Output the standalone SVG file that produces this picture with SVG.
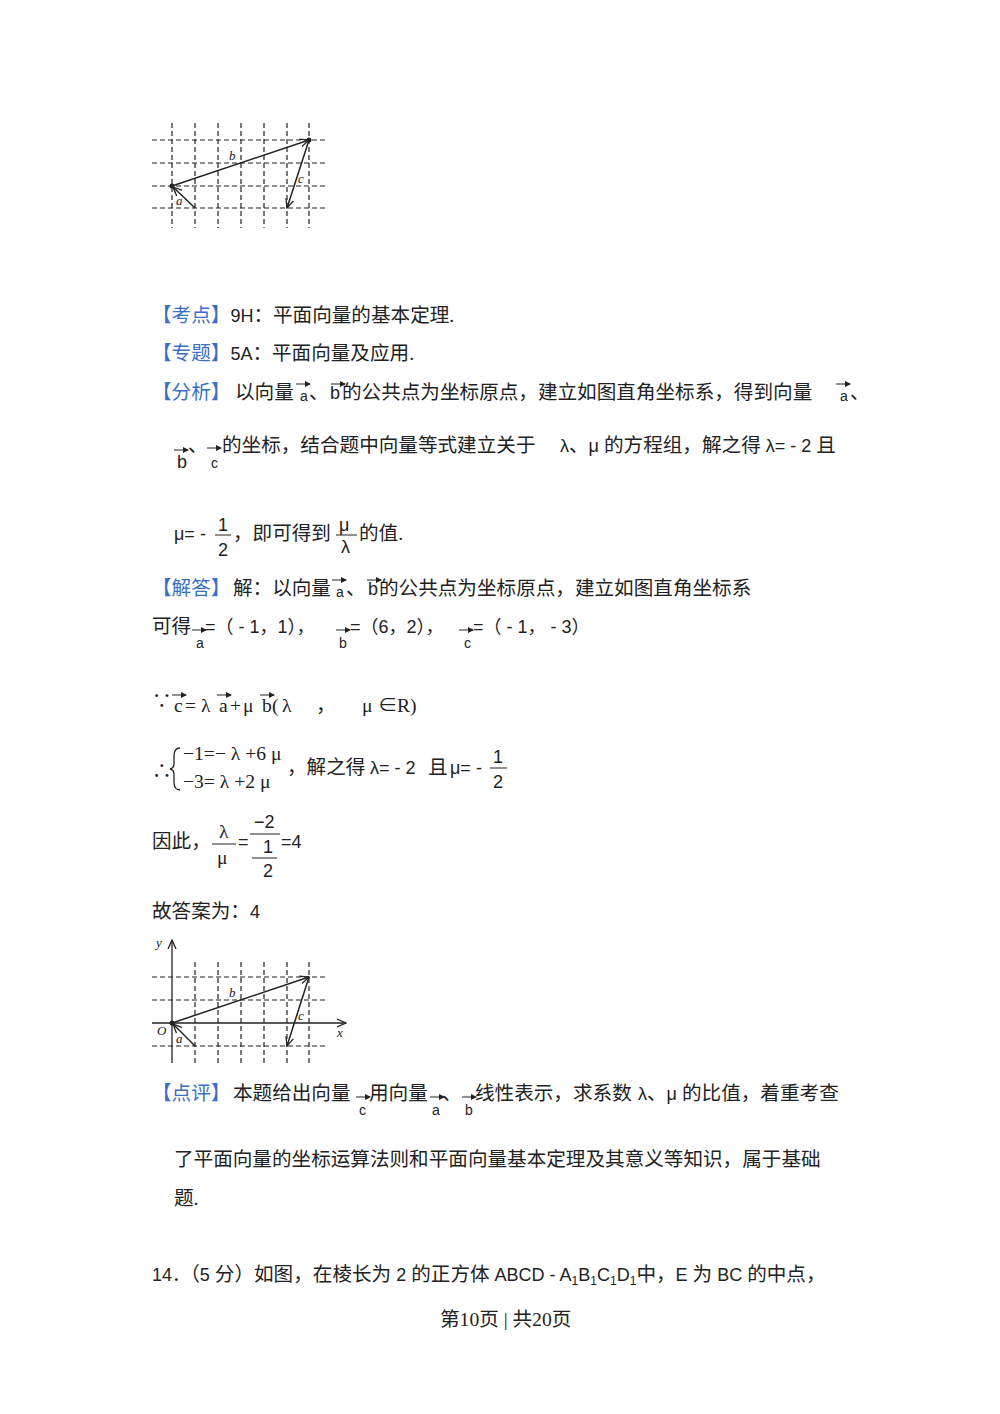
<svg xmlns="http://www.w3.org/2000/svg" width="1000" height="1414" viewBox="0 0 1000 1414">
<style>
text{font-family:"Liberation Serif","Noto Sans CJK SC",serif;font-size:19.6px;fill:#222}
.b{fill:#3a6fc4}
.s{font-family:"Liberation Sans","Noto Sans CJK SC",sans-serif;font-size:18px}
.m{font-size:14px;font-family:"Liberation Sans",sans-serif}
.g{stroke:#222;stroke-width:1.2;stroke-dasharray:5,3;fill:none}
.v{stroke:#222;stroke-width:1.5;fill:none;marker-end:url(#ar)}
.it{font-style:italic;font-size:13px}
.ar{stroke:#222;stroke-width:1;marker-end:url(#sa)}
</style>
<defs>
<marker id="ar" markerWidth="10" markerHeight="10" refX="9" refY="5" orient="auto" markerUnits="userSpaceOnUse"><path d="M0,1 L9,5 L0,9" fill="none" stroke="#222" stroke-width="1.3"/></marker>
<marker id="sa" markerWidth="6" markerHeight="6" refX="5" refY="3" orient="auto" markerUnits="userSpaceOnUse"><path d="M0,0 L6,3 L0,6z" fill="#222"/></marker>
</defs>
<g id="fig1">
<path class="g" d="M172,123V228M195,123V228M218,123V228M241,123V228M264,123V228M287,123V228M309,123V228M152,140H328M152,163H328M152,186H328M152,208H328"/>
<line class="v" x1="172" y1="186" x2="309" y2="140"/>
<line class="v" x1="195" y1="208" x2="173" y2="187"/>
<line class="v" x1="309" y1="140" x2="287" y2="208"/>
<circle cx="172" cy="186" r="2.5" fill="#222"/><circle cx="309" cy="140" r="2.5" fill="#222"/>
<text class="it" x="229" y="160">b</text><text class="it" x="176" y="205">a</text><text class="it" x="298" y="183">c</text>
</g>
<g id="text1">
<text x="152" y="322"><tspan class="b">【考点】</tspan><tspan class="s">9H</tspan>：平面向量的基本定理.</text>
<text x="152" y="360"><tspan class="b">【专题】</tspan><tspan class="s">5A</tspan>：平面向量及应用.</text>
<text x="152" y="399"><tspan class="b">【分析】</tspan><tspan x="235">以向量</tspan><tspan class="m" x="300" y="401">a</tspan><tspan x="309" y="399">、</tspan><tspan class="s" x="330">b</tspan><tspan x="342">的公共点为坐标原点，建立如图直角坐标系，得到向量</tspan><tspan class="m" x="840" y="401">a</tspan><tspan x="850" y="399">、</tspan></text>
<line class="ar" x1="296" y1="384" x2="310" y2="384"/><line class="ar" x1="331" y1="384" x2="345" y2="384"/><line class="ar" x1="836" y1="384" x2="850" y2="384"/>
<text x="174" y="452"><tspan class="s" x="177" y="468">b</tspan><tspan x="188" y="452">、</tspan><tspan class="m" x="211" y="468">c</tspan><tspan x="222" y="452">的坐标，结合题中向量等式建立关于</tspan><tspan class="s" x="555"> λ</tspan><tspan>、</tspan><tspan class="s">μ </tspan><tspan>的方程组，解之得</tspan><tspan class="s"> λ= - 2 </tspan><tspan>且</tspan></text>
<line class="ar" x1="174" y1="450" x2="188" y2="450"/><line class="ar" x1="207" y1="448" x2="221" y2="448"/>
<text class="s" x="174" y="540">μ= -</text>
<text class="s" x="218" y="531">1</text><line x1="215" y1="535" x2="231" y2="535" stroke="#222"/><text class="s" x="218" y="556">2</text>
<text x="233" y="540">，即可得到</text>
<text class="s" x="339" y="531">μ</text><line x1="336" y1="535" x2="357" y2="535" stroke="#222"/><text class="s" x="341" y="553">λ</text>
<text x="359" y="540">的值.</text>
<text x="152" y="595"><tspan class="b">【解答】</tspan><tspan x="233">解：以向量</tspan><tspan class="m" x="336" y="597">a</tspan><tspan x="346" y="595">、</tspan><tspan class="s" x="368">b</tspan><tspan x="379">的公共点为坐标原点，建立如图直角坐标系</tspan></text>
<line class="ar" x1="332" y1="580" x2="346" y2="580"/><line class="ar" x1="367" y1="580" x2="381" y2="580"/>
<text x="152" y="633">可得<tspan class="m" x="196" y="648">a</tspan><tspan class="s" x="205" y="633">=（ - 1，1），</tspan><tspan class="m" x="339" y="648">b</tspan><tspan class="s" x="350" y="633">=（6，2），</tspan><tspan class="m" x="464" y="648">c</tspan><tspan class="s" x="473" y="633">=（ - 1， - 3）</tspan></text>
<line class="ar" x1="192" y1="630" x2="206" y2="630"/><line class="ar" x1="336" y1="630" x2="350" y2="630"/><line class="ar" x1="459" y1="630" x2="473" y2="630"/>
<text x="152" y="708" font-size="18">∵</text>
<text y="712" font-size="17"><tspan x="174">c</tspan><tspan x="185">=</tspan><tspan x="201">λ</tspan><tspan x="219">a</tspan><tspan x="230">+</tspan><tspan x="243">μ</tspan><tspan x="262">b</tspan><tspan x="272">(</tspan><tspan x="282">λ</tspan><tspan x="316">，</tspan><tspan x="362">μ</tspan><tspan x="378">∈</tspan><tspan x="397">R</tspan><tspan x="410">)</tspan></text>
<line class="ar" x1="172" y1="695" x2="186" y2="695"/><line class="ar" x1="217" y1="695" x2="231" y2="695"/><line class="ar" x1="260" y1="695" x2="274" y2="695"/>
<text x="152" y="778">∴</text>
<path d="M180,748 q-6,0 -6,8 v8 q0,4 -4,5 q4,1 4,5 v8 q0,8 6,8" fill="none" stroke="#222" stroke-width="1.3"/>
<text x="183" y="760" font-size="16.5">−1=− λ +6 μ</text>
<text x="183" y="788" font-size="16.5">−3= λ +2 μ</text>
<text x="287" y="774">，解之得<tspan class="s" x="370">λ= - 2 </tspan><tspan x="428">且</tspan><tspan class="s" x="450">μ= -</tspan></text>
<text class="s" x="493" y="763">1</text><line x1="490" y1="768" x2="507" y2="768" stroke="#222"/><text class="s" x="493" y="788">2</text>
<text x="152" y="848">因此，</text>
<text x="219" y="838" font-size="16">λ</text><line x1="212" y1="844" x2="236" y2="844" stroke="#222"/><text x="217" y="864" font-size="16">μ</text>
<text class="s" x="238" y="848">=</text>
<text class="s" x="254" y="828" font-size="16">−2</text><line x1="250" y1="834" x2="280" y2="834" stroke="#222"/>
<text class="s" x="263" y="853" font-size="16">1</text><line x1="252" y1="858" x2="277" y2="858" stroke="#222"/><text class="s" x="263" y="877" font-size="16">2</text>
<text class="s" x="281" y="848">=4</text>
<text x="152" y="918">故答案为：<tspan class="s">4</tspan></text>
</g>
<g id="fig2">
<path class="g" d="M195,962V1063M218,962V1063M241,962V1063M264,962V1063M287,962V1063M309,962V1063M152,977H328M152,1000H328M152,1046H328"/>
<line x1="172" y1="1063" x2="172" y2="940" stroke="#222" stroke-width="1.3" marker-end="url(#ar)"/>
<line x1="152" y1="1023" x2="346" y2="1023" stroke="#222" stroke-width="1.3" marker-end="url(#ar)"/>
<line class="v" x1="172" y1="1023" x2="309" y2="977"/>
<line class="v" x1="195" y1="1046" x2="173" y2="1024"/>
<line class="v" x1="309" y1="977" x2="287" y2="1046"/>
<circle cx="172" cy="1023" r="2.5" fill="#222"/>
<text class="it" x="229" y="997">b</text><text class="it" x="176" y="1043">a</text><text class="it" x="298" y="1020">c</text>
<text class="it" x="157" y="1035" font-size="15">O</text><text class="it" x="156" y="947" font-size="15">y</text><text class="it" x="337" y="1037" font-size="15">x</text>
</g>
<g id="text2">
<text x="152" y="1100"><tspan class="b">【点评】</tspan><tspan x="233">本题给出向量</tspan><tspan class="m" x="359" y="1115">c</tspan><tspan x="369" y="1100">用向量</tspan><tspan class="m" x="432" y="1115">a</tspan><tspan x="442" y="1100">、</tspan><tspan class="m" x="465" y="1115">b</tspan><tspan x="475" y="1100">线性表示，求系数</tspan><tspan class="s" x="633"> λ</tspan><tspan>、</tspan><tspan class="s">μ </tspan><tspan>的比值，着重考查</tspan></text>
<line class="ar" x1="356" y1="1097" x2="370" y2="1097"/><line class="ar" x1="430" y1="1097" x2="444" y2="1097"/><line class="ar" x1="462" y1="1097" x2="476" y2="1097"/>
<text x="174" y="1166">了平面向量的坐标运算法则和平面向量基本定理及其意义等知识，属于基础</text>
<text x="174" y="1205">题.</text>
<text x="152" y="1281"><tspan class="s">14．</tspan>（<tspan class="s">5 </tspan>分）如图，在棱长为<tspan class="s"> 2 </tspan>的正方体<tspan class="s"> ABCD - A<tspan font-size="12" dy="4">1</tspan><tspan dy="-4">B</tspan><tspan font-size="12" dy="4">1</tspan><tspan dy="-4">C</tspan><tspan font-size="12" dy="4">1</tspan><tspan dy="-4">D</tspan><tspan font-size="12" dy="4">1</tspan></tspan><tspan dy="-4">中，</tspan><tspan class="s">E </tspan>为<tspan class="s"> BC </tspan>的中点，</text>
<text x="440" y="1326" font-size="15">第10页  | 共20页</text>
</g>
</svg>
